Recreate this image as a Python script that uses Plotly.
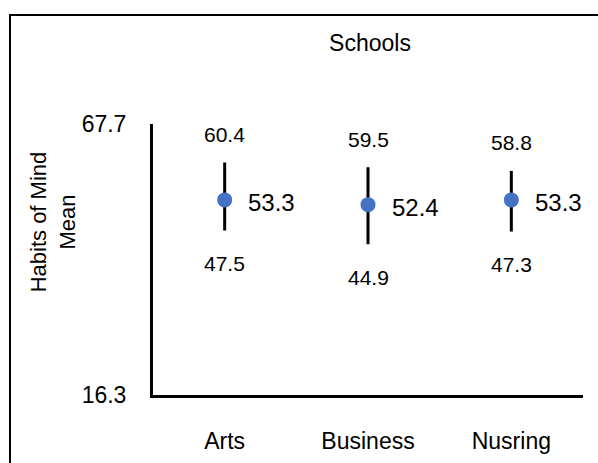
import plotly.graph_objects as go

schools = ["Arts", "Business", "Nusring"]
means = [53.3, 52.4, 53.3]
highs = [60.4, 59.5, 58.8]
lows = [47.5, 44.9, 47.3]
y_ticks = [16.3, 67.7]

FONT = "Liberation Sans, Arial, sans-serif"

fig = go.Figure()
fig.add_trace(go.Scatter(
    x=schools, y=means, mode="markers",
    marker=dict(color="#4472C4", size=15),
    error_y=dict(type="data", symmetric=False,
                 array=[h - m for h, m in zip(highs, means)],
                 arrayminus=[m - l for m, l in zip(means, lows)],
                 color="black", thickness=3, width=0),
    showlegend=False, hoverinfo="skip",
))

ann = []
for s, m, h, l in zip(schools, means, highs, lows):
    ann.append(dict(x=s, y=h, text=f"{h:.1f}", showarrow=False, yshift=28,
                    font=dict(size=21, color="black", family=FONT)))
    ann.append(dict(x=s, y=l, text=f"{l:.1f}", showarrow=False, yshift=-33,
                    font=dict(size=21, color="black", family=FONT)))
    ann.append(dict(x=s, y=m, text=f"{m:.1f}", showarrow=False, xshift=47, yshift=-3,
                    font=dict(size=24, color="black", family=FONT)))

ann.append(dict(xref="paper", yref="paper", x=-0.232, y=0.638,
                text="Habits of Mind<br>Mean", textangle=-90, showarrow=False,
                xanchor="center", yanchor="middle",
                font=dict(size=22, color="black", family=FONT)))

fig.update_layout(
    width=598, height=463,
    margin=dict(l=153, r=15, t=124, b=68),
    paper_bgcolor="white", plot_bgcolor="white",
    font=dict(family=FONT, color="black", size=22),
    title=dict(text="Schools", x=370 / 598, xref="container", xanchor="center",
               y=1 - 43 / 463, yref="container", yanchor="middle",
               font=dict(size=23, color="black", family=FONT)),
    xaxis=dict(type="category", range=[-0.5, 2.5], showgrid=False, zeroline=False,
               showline=True, linecolor="black", linewidth=3, ticks="", automargin=False,
               ticklabelstandoff=23, tickfont=dict(size=23)),
    yaxis=dict(range=[16.3, 67.7], tickvals=y_ticks, ticktext=[f"{v:.1f}" for v in y_ticks],
               showgrid=False, zeroline=False, showline=True, linecolor="black", automargin=False,
               linewidth=3, ticks="", ticklabelstandoff=19, tickfont=dict(size=23)),
    annotations=ann,
    shapes=[dict(type="rect", xref="paper", yref="paper",
                 x0=(10 - 153) / 430, x1=(640 - 153) / 430,
                 y0=(395 - 500) / 271, y1=(395 - 15) / 271,
                 line=dict(color="black", width=2), fillcolor="rgba(0,0,0,0)")],
)

fig.write_html("out.html")
